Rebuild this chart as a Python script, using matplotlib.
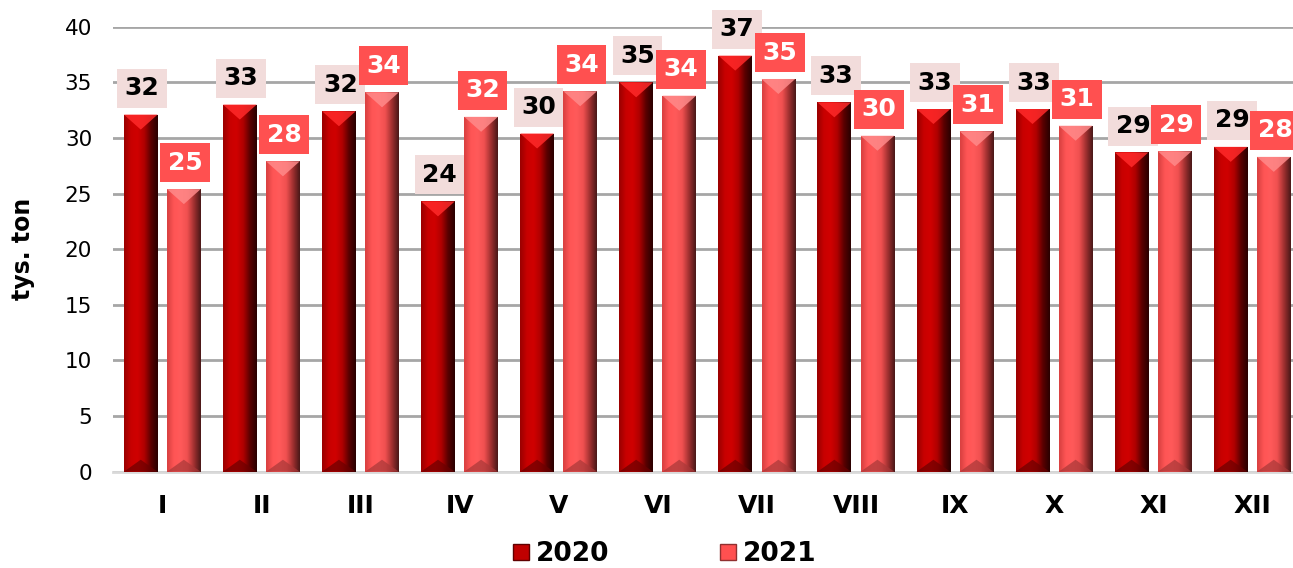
import numpy as np
import matplotlib
matplotlib.use("Agg")
import matplotlib.pyplot as plt
from matplotlib.colors import LinearSegmentedColormap
from matplotlib.patches import Polygon, Patch

# monthly values, tys. ton
months = ["I", "II", "III", "IV", "V", "VI", "VII", "VIII", "IX", "X", "XI", "XII"]
vals_2020 = [32.1, 33.0, 32.4, 24.3, 30.4, 35.0, 37.4, 33.2, 32.6, 32.6, 28.7, 29.2]
vals_2021 = [25.4, 27.9, 34.1, 31.9, 34.2, 33.8, 35.3, 30.2, 30.6, 31.1, 28.8, 28.3]
series_names = ["2020", "2021"]

plt.rcParams["font.family"] = "DejaVu Sans"

fig = plt.figure(figsize=(12.93, 5.68), dpi=100)
ax = fig.add_axes([113 / 1293, 96.3 / 568, 1189 / 1293, 445 / 568])

x = np.arange(len(months))
width = 0.34
offsets = [-0.22, 0.215]

# per series: (gradient colours left->right, cap colour, base colour, box colour, label text colour)
styles = [
    (["#9a0000", "#c80000", "#d00000", "#b00000", "#5a0000", "#2a0000"], "#ff2a2a", "#6a0000", "#f2dcdb", "black"),
    (["#d84040", "#ff5555", "#ff5a5a", "#f05050", "#a03030", "#4a1818"], "#ff8a8a", "#a83838", "#ff5050", "white"),
]

px = 445 / 40.0  # pixels per unit
cap_h = 15 / px
foot_h = 12 / px

for si, vals in enumerate([vals_2020, vals_2021]):
    grad_cols, cap_col, foot_col, box_col, txt_col = styles[si]
    cmap = LinearSegmentedColormap.from_list("g%d" % si, grad_cols)
    bars = ax.bar(x + offsets[si], vals, width, color=grad_cols[2], zorder=3)
    grad = np.linspace(0, 1, 64).reshape(1, -1)
    for b, v in zip(bars, vals):
        x0 = b.get_x()
        x1 = x0 + b.get_width()
        xc = (x0 + x1) / 2
        im = ax.imshow(grad, extent=[x0, x1, 0, v], aspect="auto", cmap=cmap,
                       zorder=3.1, interpolation="bicubic")
        im.set_clip_path(b)
        ax.add_patch(Polygon([[x0, v], [x1, v], [xc, v - cap_h]], closed=True,
                             facecolor=cap_col, edgecolor="none", alpha=0.85, zorder=3.2))
        ax.add_patch(Polygon([[x0, 0], [x1, 0], [xc, foot_h]], closed=True,
                             facecolor=foot_col, edgecolor="none", alpha=0.7, zorder=3.2))
        ax.annotate(f"{v:.0f}", (xc, v), xytext=(1, 19), textcoords="offset points",
                    ha="center", va="center", fontsize=18, fontweight="bold", color=txt_col,
                    zorder=5,
                    bbox=dict(boxstyle="square,pad=0.3", facecolor=box_col, edgecolor="none"))

ax.set_xlim(-0.5, len(months) - 0.5)
ax.set_ylim(0, 40)
ax.set_yticks(range(0, 41, 5))
ax.set_xticks(x)
ax.set_xticklabels(months, fontsize=18, fontweight="bold")
ax.tick_params(axis="x", length=0, pad=16)
ax.tick_params(axis="y", length=0, pad=15, labelsize=15.5)
ax.yaxis.grid(True, color="#a6a6a6", linewidth=2, zorder=0)
ax.set_axisbelow(True)
for s in ["top", "right", "left"]:
    ax.spines[s].set_visible(False)
ax.spines["bottom"].set_color("#d9d9d9")
ax.spines["bottom"].set_linewidth(2)

ax.set_ylabel("tys. ton", fontsize=17, fontweight="bold")
ax.yaxis.set_label_coords(-0.0656, 0.5)

handles = [Patch(facecolor="#c00000", edgecolor="#600000"),
           Patch(facecolor="#ff5050", edgecolor="#903030")]
fig.legend(handles, series_names, loc="center", bbox_to_anchor=(0.514, 0.024), ncol=2,
           frameon=False, prop={"size": 19, "weight": "bold"},
           handlelength=0.6, handleheight=0.6, handletextpad=0.25, columnspacing=4.2)

fig.savefig("out.png", dpi=100)
